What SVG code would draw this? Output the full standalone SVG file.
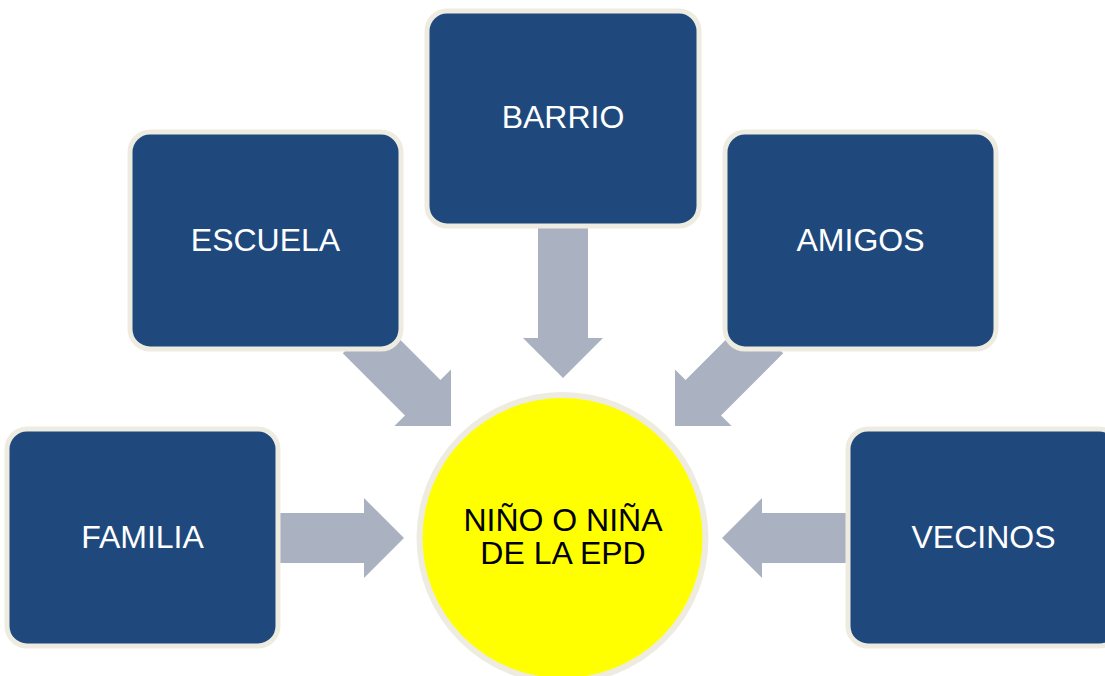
<svg xmlns="http://www.w3.org/2000/svg" width="1105" height="676" viewBox="0 0 1105 676">
  <style>
    .box { fill: #1F497D; stroke: #EEECE1; stroke-width: 5; }
    .arrow { fill: #AAB1C0; stroke: none; }
    .lbl { font-family: "Liberation Sans", Arial, sans-serif; font-size: 32px; fill: #FFFFFF; text-anchor: middle; }
    .center-lbl { font-family: "Liberation Sans", Arial, sans-serif; font-size: 32px; fill: #000000; text-anchor: middle; }
  </style>
  <rect width="1105" height="676" fill="#FFFFFF"/>
  <g id="connectors">
    <polygon class="arrow" points="278,513 364,513 364,498 404,538 364,578 364,563 278,563"/>
    <polygon class="arrow" points="848,513 762,513 762,498 722,538 762,578 762,563 848,563"/>
    <polygon class="arrow" points="538,226 588,226 588,338 603,338 563,378 523,338 538,338"/>
    <polygon class="arrow" points="378.2,317.8 440.4,380 451,369.4 451,426 394.4,426 405,415.4 342.8,353.2"/>
    <polygon class="arrow" points="747.8,317.8 685.6,380 675,369.4 675,426 731.6,426 721,415.4 783.2,353.2"/>
  </g>
  <g id="node-familia">
    <rect class="box" x="7" y="429" width="271" height="217" rx="20"/>
    <text class="lbl" x="142.5" y="548">FAMILIA</text>
  </g>
  <g id="node-escuela">
    <rect class="box" x="130" y="132" width="271" height="217" rx="20"/>
    <text class="lbl" x="265.5" y="251">ESCUELA</text>
  </g>
  <g id="node-barrio">
    <rect class="box" x="427" y="11" width="272" height="215" rx="20"/>
    <text class="lbl" x="563" y="128">BARRIO</text>
  </g>
  <g id="node-amigos">
    <rect class="box" x="725" y="132" width="271" height="217" rx="20"/>
    <text class="lbl" x="860.5" y="251">AMIGOS</text>
  </g>
  <g id="node-vecinos">
    <rect class="box" x="848" y="429" width="271" height="217" rx="20"/>
    <text class="lbl" x="983.5" y="548">VECINOS</text>
  </g>
  <g id="node-center">
    <circle cx="562.5" cy="538" r="143" fill="#FFFF00" stroke="#EEECE1" stroke-width="6"/>
    <text class="center-lbl" x="563" y="531">NIÑO O NIÑA</text>
    <text class="center-lbl" x="563" y="564">DE LA EPD</text>
  </g>
</svg>
